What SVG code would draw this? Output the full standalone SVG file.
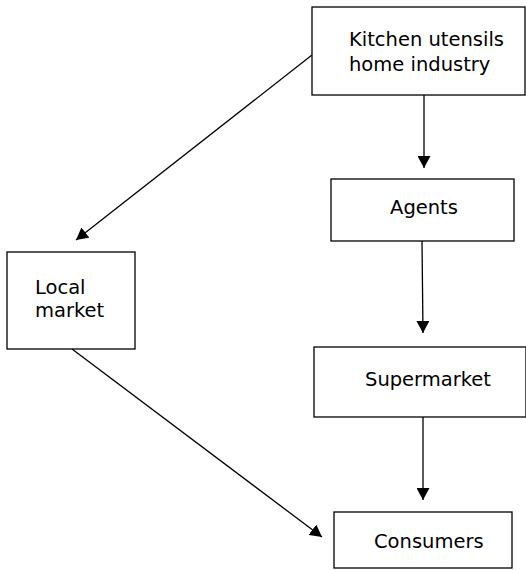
<svg xmlns="http://www.w3.org/2000/svg" width="526" height="570" viewBox="0 0 526 570">
<style>
.box{fill:#fff;stroke:#000;stroke-width:1.3}
.lbl{font-family:"DejaVu Sans","Liberation Sans",sans-serif;font-size:19.5px;fill:#000}
.con{stroke:#000;stroke-width:1.3;fill:none;marker-end:url(#ah)}
</style>
<defs>
<marker id="ah" viewBox="0 0 12 13" refX="12" refY="6.5" markerWidth="12" markerHeight="13" markerUnits="userSpaceOnUse" orient="auto">
<path d="M0,0 L12,6.5 L0,13 Z" fill="#000"/>
</marker>
</defs>
<rect width="526" height="570" fill="#fff"/>
<g id="kitchen">
<rect class="box" x="312" y="7" width="213" height="88"/>
<text class="lbl" x="349" y="46">Kitchen utensils</text>
<text class="lbl" x="349" y="71">home industry</text>
</g>
<g id="agents">
<rect class="box" x="331" y="179" width="183" height="62"/>
<text class="lbl" x="424" y="214" text-anchor="middle">Agents</text>
</g>
<g id="local">
<rect class="box" x="7" y="252" width="128" height="97"/>
<text class="lbl" x="35" y="294">Local</text>
<text class="lbl" x="35" y="317">market</text>
</g>
<g id="supermarket">
<rect class="box" x="314" y="347" width="212" height="70"/>
<text class="lbl" x="365" y="386">Supermarket</text>
</g>
<g id="consumers">
<rect class="box" x="334" y="512" width="178" height="56"/>
<text class="lbl" x="374" y="548">Consumers</text>
</g>
<g id="connectors">
<line class="con" x1="424" y1="95" x2="424" y2="168"/>
<line class="con" x1="422" y1="241" x2="423" y2="333"/>
<line class="con" x1="423" y1="417" x2="423" y2="500"/>
<line class="con" x1="312" y1="55" x2="76" y2="240"/>
<line class="con" x1="72" y1="349" x2="322" y2="537"/>
</g>
</svg>
